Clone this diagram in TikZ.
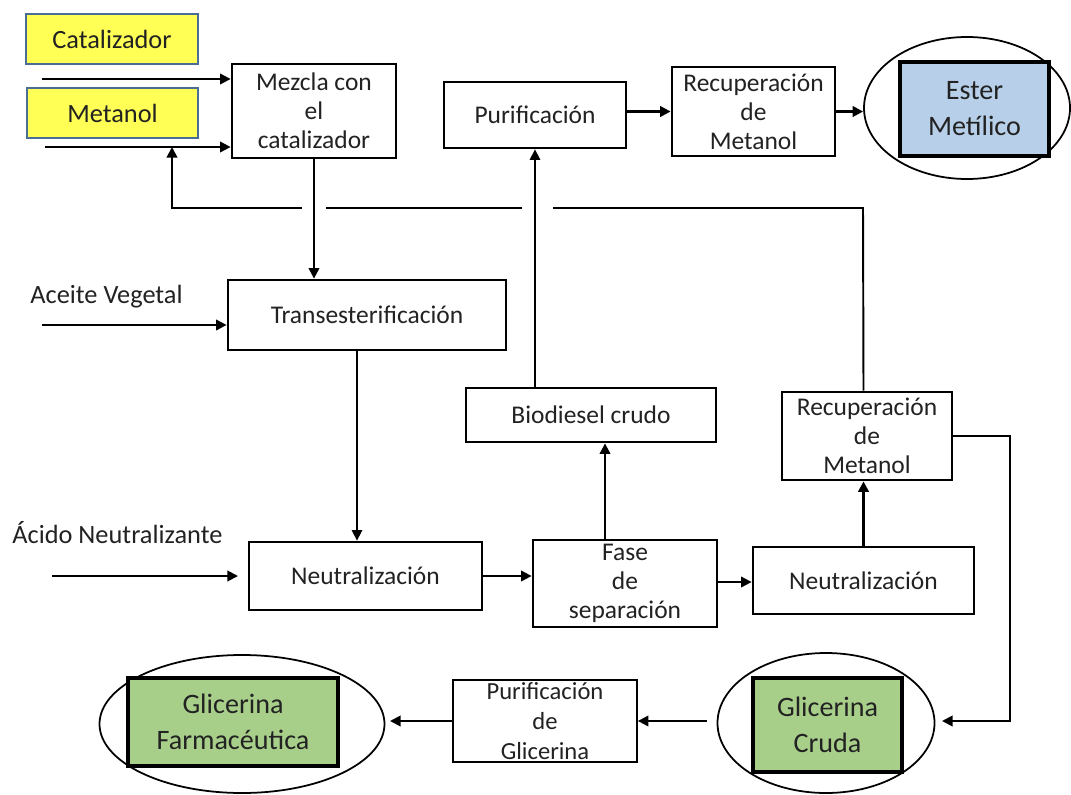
\documentclass[tikz,border=0pt]{standalone}
\usepackage{fontspec}
\setmainfont{Carlito}
\usetikzlibrary{arrows.meta,calc,shapes.geometric}
\definecolor{yel}{HTML}{FFFF55}
\definecolor{yelb}{HTML}{4A6E96}
\definecolor{blu}{HTML}{B7CFE8}
\definecolor{grn}{HTML}{A8CF8A}
\definecolor{txt}{HTML}{222222}
\begin{document}
\begin{tikzpicture}[x=0.02cm,y=-0.02cm,
  sz/.style 2 args={minimum width=#1*0.02cm, minimum height=#2*0.02cm},
  box/.style={draw, line width=1.6pt, fill=white, align=center, inner sep=0pt,
    text=txt, font=\fontsize{14.5}{16.5}\selectfont},
  ybox/.style={draw=yelb, line width=1.3pt, fill=yel, align=center, inner sep=0pt,
    text=txt, font=\fontsize{15}{17}\selectfont},
  bbox/.style={draw, line width=2pt, fill=blu, align=center, inner sep=0pt,
    text=txt, font=\fontsize{16}{20.5}\selectfont},
  gbox/.style={draw, line width=2pt, fill=grn, align=center, inner sep=0pt,
    text=txt, font=\fontsize{16}{20.5}\selectfont},
  ell/.style={draw, ellipse, line width=1pt, inner sep=0pt},
  lbl/.style={inner sep=0pt, text=txt, font=\fontsize{15}{17}\selectfont},
  conn/.style={line width=1.1pt},
  arr/.style={conn, -{Triangle[length=6pt,width=6pt]}},
  thinconn/.style={line width=0.8pt, draw=black!70},
]
\useasboundingbox (0,0) rectangle (1071,794);
\fill[white] (0,0) rectangle (1071,794);

% nodes
\node[ybox, sz={172}{50}] (cat) at (112,39) {Catalizador};
\node[ybox, sz={171}{50}] (met) at (112.5,113) {Metanol};
\node[box, sz={164}{94}] (mez) at (314,111) {Mezcla con\\el\\catalizador};
\node[box, sz={278}{70}] (trans) at (367,315) {Transesterificación};
\node[lbl, anchor=west] (aceite) at (30,297) {Aceite Vegetal};
\node[lbl, anchor=west] (acido) at (12,533) {Ácido Neutralizante};
\node[box, sz={233}{68}] (neu1) at (365.5,576) {Neutralización};
\node[box, sz={184}{87}] (fase) at (625,583.5) {Fase\\de\\separación};
\node[box, sz={250}{54}] (bio) at (591,415) {Biodiesel crudo};
\node[box, sz={182}{66}] (pur) at (535,115) {Purificación};
\node[box, sz={163}{89}] (rec1) at (753.5,111.5) {Recuperación\\de\\Metanol};
\node[ell, sz={206}{142}] (esterell) at (967,108) {};
\node[bbox, sz={149}{94}] (ester) at (974.5,109) {Ester\\Metílico};
\node[box, sz={170}{88}] (rec2) at (867,436) {Recuperación\\de\\Metanol};
\node[box, sz={221}{67}] (neu2) at (863.5,580.5) {Neutralización};
\node[ell, sz={217}{140}] (crudaell) at (826,723) {};
\node[gbox, sz={149}{94}] (cruda) at (827.5,725) {Glicerina\\Cruda};
\node[box, line width=1pt, sz={184}{82}, font=\fontsize{14}{17}\selectfont] (purg) at (545,721) {Purificación\\de\\Glicerina};
\node[ell, sz={285}{138}] (farmell) at (242,724) {};
\node[gbox, sz={210}{88}] (farm) at (233,722) {Glicerina\\Farmacéutica};

% free ends
\coordinate (c1s) at (42,79);
\coordinate (c2s) at (45,147);
\coordinate (a1) at (42,325);
\coordinate (t1) at (357,0);
\coordinate (ac1) at (52,576);
\coordinate (ac2) at (238,576);
\coordinate (f1) at (605,0);
\coordinate (fy) at (0,582);
\coordinate (r1) at (863,208);
\coordinate (g1) at (553,208);
\coordinate (g2) at (522,208);
\coordinate (g3) at (326,208);
\coordinate (g4) at (302,208);
\coordinate (r2) at (172,208);
\coordinate (r3) at (172,147);
\coordinate (rr1) at (1010,436);
\coordinate (rr2) at (1010,721);
\coordinate (rr3) at (942,721);
\coordinate (cw) at (707,721);
\coordinate (fe) at (390,721);

% connectors
\draw[arr] (c1s) -- (c1s -| mez.west);
\draw[arr] (c2s) -- (c2s -| mez.west);
\draw[arr] (mez.south) -- (mez.south |- trans.north);
\draw[arr] (a1) -- (a1 -| trans.west);
\draw[arr, line width=0.8pt] (t1 |- trans.south) -- (t1 |- neu1.north);
\draw[arr] (ac1) -- (ac2);
\draw[arr] (neu1.east) -- (neu1.east -| fase.west);
\draw[arr] (f1 |- fase.north) -- (f1 |- bio.south);
\draw[arr] (fase.east |- fy) -- (neu2.west |- fy);
\draw[arr, line width=1.5pt] (neu2.north) -- (neu2.north |- rec2.south);
\draw[arr, line width=0.8pt] (bio.north -| pur.south) -- (pur.south);
\draw[arr, line width=1.4pt] (pur.east |- rec1.west) -- (rec1.west);
\draw[arr, line width=1.4pt] (rec1.east) -- (rec1.east -| esterell.west);
\draw[conn] (neu2.north |- rec2.north) -- (r1) -- (g1);
\draw[conn] (g2) -- (g3);
\draw[arr] (g4) -- (r2) -- (r3);
\draw[arr] (rec2.east |- rr1) -- (rr1) -- (rr2) -- (rr3);
\draw[arr] (cw) -- (cw -| purg.east);
\draw[arr] (purg.west |- fe) -- (fe);
\end{tikzpicture}
\end{document}
